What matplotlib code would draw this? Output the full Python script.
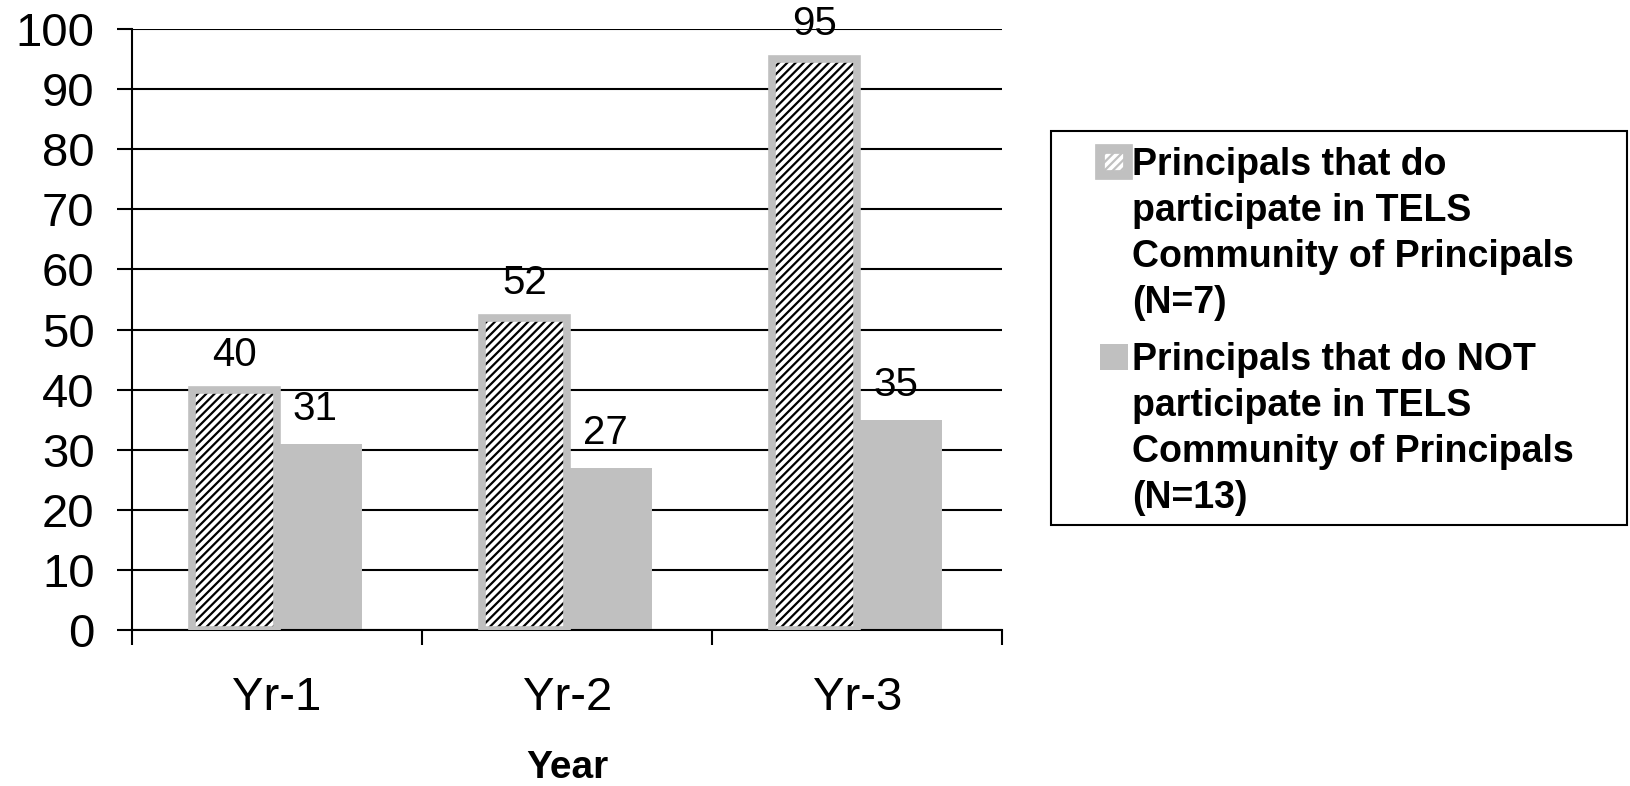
import numpy as np
import matplotlib.pyplot as plt
from matplotlib.patches import Rectangle

plt.rcParams['font.family'] = ['Liberation Sans', 'DejaVu Sans']
plt.rcParams['hatch.linewidth'] = 1.6

# ---- Data ----
years = ['Yr-1', 'Yr-2', 'Yr-3']
participate = [40, 52, 95]
not_participate = [31, 27, 35]
series_labels = [
    'Principals that do\nparticipate in TELS\nCommunity of Principals\n(N=7)',
    'Principals that do NOT\nparticipate in TELS\nCommunity of Principals\n(N=13)',
]
yticks = list(range(0, 101, 10))

gray = '#c0c0c0'

fig = plt.figure(figsize=(16.3, 7.86), dpi=100)
ax = fig.add_axes([0.081, 0.1985, 0.534, 0.7645])

x = np.arange(len(years))
w = 0.293

# hatched bars with a gray border
ax.bar(x - w/2, participate, w, color='white', edgecolor='black', hatch='////', lw=0, zorder=2)
ax.bar(x - w/2, participate, w, fill=False, edgecolor=gray, lw=5.5, zorder=3)
ax.bar(x + w/2, not_participate, w, color=gray, lw=0, zorder=2)

for xi, v in zip(x - w/2, participate):
    ax.annotate(str(v), (xi, v), xytext=(0, 25), textcoords='offset points',
                ha='center', va='center', fontsize=29)
for xi, v in zip(x + w/2, not_participate):
    ax.annotate(str(v), (xi, v), xytext=(-3, 25), textcoords='offset points',
                ha='center', va='center', fontsize=29)

# axes
ax.set_xlim(-0.5, len(years) - 0.5)
ax.set_ylim(0, 100)
ax.set_yticks(yticks)
ax.yaxis.grid(True, color='black', lw=1.5)
ax.set_axisbelow(True)
for s in ['top', 'right']:
    ax.spines[s].set_visible(False)
for s in ['left', 'bottom']:
    ax.spines[s].set_linewidth(1.5)
ax.tick_params(axis='y', length=11, width=1.5, pad=16, labelsize=34)

ax.set_xticks(x)
ax.set_xticklabels(years)
ax.set_xticks(np.arange(-0.5, len(years), 1), minor=True)
ax.tick_params(axis='x', which='major', length=0, pad=33, labelsize=34)
ax.tick_params(axis='x', which='minor', length=11, width=1.5)
ax.set_xlabel('Year', fontsize=28, fontweight='bold', labelpad=22)

# ---- Legend (drawn by hand to match the boxed layout) ----
fig.patches.append(Rectangle((0.645, 0.332), 0.353, 0.501, transform=fig.transFigure,
                             fill=False, ec='black', lw=1.5))
handle_y = [0.7774, 0.529]
text_y = [0.777, 0.529]
line_step = 46 / 786
for i, lab in enumerate(series_labels):
    if i == 0:
        fig.patches.append(Rectangle((0.675, handle_y[i]), 0.0172, 0.0331, transform=fig.transFigure,
                                     facecolor='white', edgecolor=gray, lw=7, hatch='////'))
    else:
        fig.patches.append(Rectangle((0.675, handle_y[i]), 0.0172, 0.0331, transform=fig.transFigure,
                                     facecolor=gray, lw=0))
    for j, line in enumerate(lab.split('\n')):
        fig.text(0.6945, text_y[i] - j * line_step, line, fontsize=27, fontweight='bold',
                 va='baseline', ha='left')

fig.savefig('out.png', dpi=100)
